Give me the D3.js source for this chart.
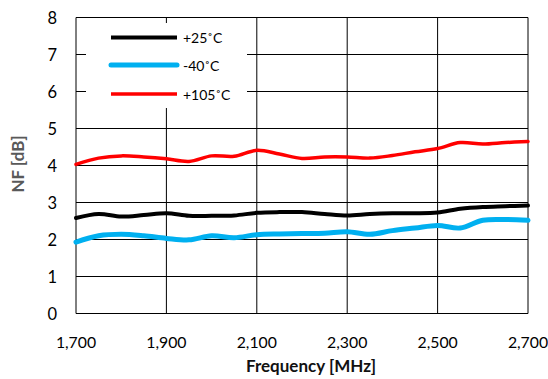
<!DOCTYPE html>
<html>
<head>
<meta charset="utf-8">
<script src="https://cdn.jsdelivr.net/npm/d3@7/dist/d3.min.js"></script>
<style>
html,body{margin:0;padding:0;background:#fff;}
svg{display:block;}
</style>
</head>
<body>
<svg id="chart" width="548" height="379"></svg>
<script>
const frequencies = [1700,1750,1800,1850,1900,1950,2000,2050,2100,2150,2200,2250,2300,2350,2400,2450,2500,2550,2600,2650,2700];
const nf25 = [2.58,2.69,2.62,2.66,2.71,2.64,2.64,2.65,2.72,2.74,2.74,2.69,2.65,2.69,2.71,2.71,2.73,2.83,2.88,2.90,2.92];
const nfMinus40 = [1.93,2.10,2.14,2.10,2.03,1.99,2.10,2.05,2.13,2.15,2.16,2.17,2.21,2.14,2.24,2.31,2.38,2.31,2.52,2.54,2.52];
const nf105 = [4.03,4.20,4.26,4.23,4.18,4.11,4.26,4.25,4.41,4.31,4.19,4.23,4.23,4.20,4.27,4.37,4.46,4.62,4.58,4.62,4.65];
const seriesNames = ["+25\u02DAC","-40\u02DAC","+105\u02DAC"];
const xTicks = [1700,1900,2100,2300,2500,2700];
const yTicks = [0,1,2,3,4,5,6,7,8];
const xTitle = "Frequency [MHz]";
const yTitle = "NF [dB]";

const seriesData = [nf25, nfMinus40, nf105];
const colors = ["#000000","#00B0F0","#FF0000"];
const widths = [4,5,3.5];

const svg = d3.select("#chart");
const font = "Lato, 'Open Sans', sans-serif";

const x = d3.scaleLinear().domain([1700,2700]).range([76,528]);
const y = d3.scaleLinear().domain([0,8]).range([313.5,17.5]);

// gridlines
const grid = svg.append("g");
grid.selectAll("line.h").data(yTicks).enter().append("line")
  .attr("x1", x(1700)).attr("x2", x(2700))
  .attr("y1", d => y(d)).attr("y2", d => y(d))
  .attr("stroke", "#000").attr("stroke-width", 1);
grid.selectAll("line.v").data(xTicks).enter().append("line")
  .attr("x1", d => x(d)).attr("x2", d => x(d))
  .attr("y1", y(0)).attr("y2", y(8))
  .attr("stroke", "#000").attr("stroke-width", 1);

// axes labels
svg.append("g").selectAll("text").data(yTicks).enter().append("text")
  .attr("x", 57).attr("y", d => y(d) + 6)
  .attr("text-anchor", "end")
  .attr("font-family", font).attr("font-size", 16.5).attr("fill", "#000")
  .text(d => d);
svg.append("g").selectAll("text").data(xTicks).enter().append("text")
  .attr("x", d => x(d)).attr("y", 347.5)
  .attr("text-anchor", "middle")
  .attr("font-family", font).attr("font-size", 15.8).attr("fill", "#000")
  .text(d => d3.format(",")(d));

svg.append("text")
  .attr("x", 311).attr("y", 372)
  .attr("text-anchor", "middle")
  .attr("font-family", font).attr("font-size", 17).attr("font-weight", "bold").attr("fill", "#111")
  .text(xTitle);
svg.append("text")
  .attr("transform", "translate(24,164) rotate(-90)")
  .attr("text-anchor", "middle")
  .attr("font-family", font).attr("font-size", 17).attr("font-weight", "bold").attr("fill", "#595959")
  .text(yTitle);

// legend background
svg.append("rect").attr("x", 86).attr("y", 23).attr("width", 161).attr("height", 85).attr("fill", "#fff");

// series lines
const line = d3.line()
  .x((d, i) => x(frequencies[i]))
  .y(d => y(d))
  .curve(d3.curveCatmullRom.alpha(0.5));
seriesData.forEach((s, k) => {
  svg.append("path").datum(s)
    .attr("d", line)
    .attr("fill", "none")
    .attr("stroke", colors[k])
    .attr("stroke-width", widths[k])
    .attr("stroke-linejoin", "round")
    .attr("stroke-linecap", "round");
});

// legend
const legY = [37.5, 65, 94];
const leg = svg.append("g");
seriesNames.forEach((name, k) => {
  leg.append("line")
    .attr("x1", 111).attr("x2", 177)
    .attr("y1", legY[k]).attr("y2", legY[k])
    .attr("stroke", colors[k]).attr("stroke-width", widths[k])
    .attr("stroke-linecap", k === 1 ? "round" : "butt");
  leg.append("text")
    .attr("x", 183).attr("y", legY[k] + 5.5)
    .attr("font-family", font).attr("font-size", 14).attr("fill", "#000")
    .text(name);
});
</script>
</body>
</html>
